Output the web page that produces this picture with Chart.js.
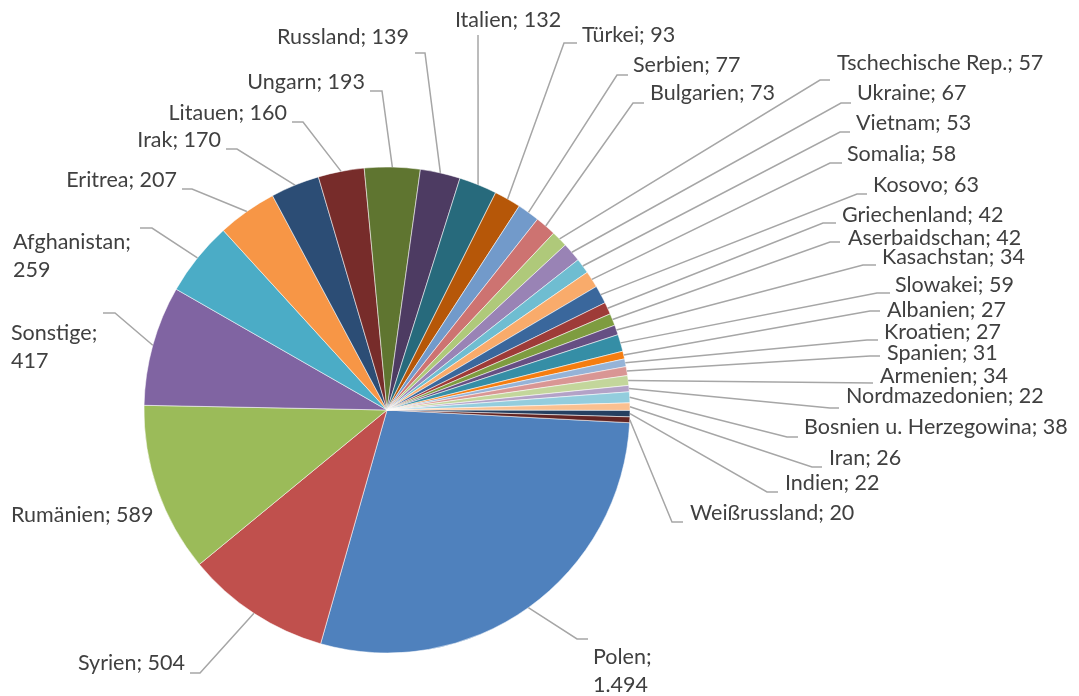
<!DOCTYPE html>
<html>
<head>
<meta charset="utf-8">
<script src="https://cdn.jsdelivr.net/npm/chart.js@4/dist/chart.umd.min.js"></script>
<style>
html,body{margin:0;padding:0;background:#fff;}
#wrap{width:1079px;height:696px;position:relative;}
</style>
</head>
<body>
<div id="wrap"><canvas id="c" width="1079" height="696"></canvas></div>
<script>
// ---- data ----
const categories = ["Polen","Syrien","Rumänien","Sonstige","Afghanistan","Eritrea","Irak","Litauen","Ungarn","Russland","Italien","Türkei","Serbien","Bulgarien","Tschechische Rep.","Ukraine","Vietnam","Somalia","Kosovo","Griechenland","Aserbaidschan","Kasachstan","Slowakei","Albanien","Kroatien","Spanien","Armenien","Nordmazedonien","Bosnien u. Herzegowina","Iran","Indien","Weißrussland"];
const values = [1494,504,589,417,259,207,170,160,193,139,132,93,77,73,57,67,53,58,63,42,42,34,59,27,27,31,34,22,38,26,22,20];
const colors = ["#4F81BD","#C0504D","#9BBB59","#8064A2","#4BACC6","#F79646","#2C4D75","#772C2A","#5F7530","#4D3B62","#276A7C","#B65708","#729ACA","#CD7371","#AFC97A","#9983B5","#6FBDD1","#F9AB6B","#3A679C","#9E3B38","#7E9C40","#664F83","#358EA6","#F57D10","#95B3D7","#D99694","#C3D69B","#B3A2C7","#93CDDD","#FAC090","#254061","#632523"];

// label layout: [align, textX, textY, wrap, lineEndX, lineEndY, kneeX]
const labelLayout = [
  ["left",593,657,true,588,639,577],
  ["right",185,663,false,190,673,200],
  ["left",11,515,false,null,null,null],
  ["left",11,333,true,103,313,115],
  ["left",13,242,true,140,228,152],
  ["right",177,180,false,182,189,192],
  ["right",221,140,false,226,149,237],
  ["right",287,113,false,292,122,303],
  ["right",365,82,false,370,91,382],
  ["right",409,37,false,415,53,425],
  ["center",508,20,false,478,35,478],
  ["left",582,35,false,577,43,564],
  ["left",633,65,false,628,75,617],
  ["left",650,93,false,644,103,633],
  ["left",837,63,false,830,80,820],
  ["left",857,93,false,851,103,841],
  ["left",856,123,false,850,132,840],
  ["left",847,154,false,842,163,830],
  ["left",873,185,false,867,194,857],
  ["left",842,215,false,836,223,823],
  ["left",848,238,false,840,242,830],
  ["left",882,257,false,876,265,863],
  ["left",895,285,false,890,293,877],
  ["left",887,310,false,880,311,870],
  ["left",884,332,false,878,340,867],
  ["left",887,353,false,880,356,870],
  ["left",880,376,false,873,383,873],
  ["left",846,396,false,839,408,830],
  ["left",804,427,false,798,437,787],
  ["left",829,458,false,822,467,812],
  ["left",785,483,false,778,492,767],
  ["left",690,513,false,683,522,672]
];

const fmt = v => v.toLocaleString('de-DE');

const labelPlugin = {
  id: 'pieLabels',
  afterDatasetsDraw(chart) {
    const ctx = chart.ctx;
    const meta = chart.getDatasetMeta(0);
    ctx.save();
    ctx.font = '21.5px Lato, "Open Sans", sans-serif';
    ctx.fillStyle = '#404040';
    ctx.textBaseline = 'middle';
    meta.data.forEach((arc, i) => {
      const L = labelLayout[i];
      const [align, tx, ty, wrap, ex, ey, kx] = L;
      if (ex !== null) {
        const mid = (arc.startAngle + arc.endAngle) / 2;
        const px = arc.x + Math.cos(mid) * arc.outerRadius;
        const py = arc.y + Math.sin(mid) * arc.outerRadius;
        ctx.beginPath();
        ctx.strokeStyle = '#A6A6A6';
        ctx.lineWidth = 1.5;
        ctx.moveTo(px, py);
        ctx.lineTo(kx, ey);
        ctx.lineTo(ex, ey);
        ctx.stroke();
      }
      ctx.textAlign = align;
      const name = categories[i] + ';';
      const val = fmt(values[i]);
      if (wrap) {
        ctx.fillText(name, tx, ty);
        ctx.fillText(val, tx, ty + 28);
      } else {
        ctx.fillText(name + ' ' + val, tx, ty);
      }
    });
    ctx.restore();
  }
};

new Chart(document.getElementById('c'), {
  type: 'pie',
  data: {
    labels: categories,
    datasets: [{
      data: values,
      backgroundColor: colors,
      borderColor: 'rgba(255,255,255,0.7)',
      borderWidth: 0.75
    }]
  },
  options: {
    responsive: false,
    animation: false,
    rotation: 93,
    radius: 243,
    layout: { padding: { left: 137, top: 160, right: 442, bottom: 36 } },
    plugins: { legend: { display: false }, tooltip: { enabled: false } }
  },
  plugins: [labelPlugin]
});
</script>
</body>
</html>
